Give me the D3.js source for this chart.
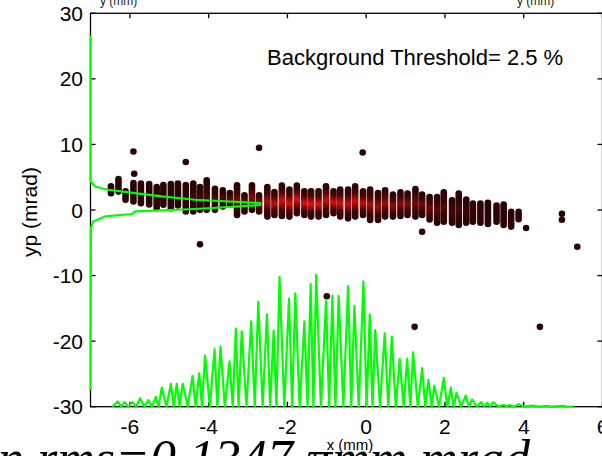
<!DOCTYPE html>
<html><head><meta charset="utf-8">
<script src="https://cdn.jsdelivr.net/npm/d3@7"></script>
<style>body{margin:0;background:#fff}svg{display:block}</style>
</head><body><svg id="c" width="602" height="456"></svg>
<script>
// ---- data ----
const xTicks = [-6, -4, -2, 0, 2, 4, 6];
const yTicks = [30, 20, 10, 0, -10, -20, -30];

// scatter columns (x in mm, top / bottom dot centres in mrad, density 0..1)
const colX = [-6.48,-6.29,-6.11,-5.91,-5.72,-5.51,-5.32,-5.15,-4.96,-4.78,
  -4.58,-4.39,-4.22,-4.05,-3.84,-3.64,-3.46,-3.28,-3.09,-2.90,
  -2.72,-2.51,-2.33,-2.14,-1.95,-1.76,-1.57,-1.40,-1.21,-1.02,
  -0.83,-0.66,-0.46,-0.28,-0.08,0.10,0.30,0.48,0.68,0.87,
  1.05,1.25,1.42,1.61,1.80,1.97,2.18,2.35,2.54,2.71,
  2.90,3.09,3.31,3.49,3.68,3.87];
const colTop = [3.62,4.73,2.86,4.12,4.02,3.97,3.51,3.82,3.97,4.05,
  3.82,4.05,3.51,4.53,3.25,3.01,2.60,3.77,2.25,3.77,
  2.25,3.51,2.75,3.71,3.10,3.71,2.86,2.86,2.86,3.62,
  2.86,3.10,3.10,3.62,2.86,3.10,2.60,3.01,2.34,2.71,
  2.50,3.21,2.34,1.99,1.99,2.71,1.49,2.50,1.58,0.97,
  0.97,1.08,0.67,0.82,-0.29,-0.29];
const colBot = [2.55,2.81,1.55,1.29,1.03,0.83,0.27,0.79,0.27,0.68,
  -0.24,-0.24,0.02,0.02,0.02,0.52,0.83,-0.75,-0.24,0.02,
  -0.24,-1.01,-0.75,-0.90,-1.01,-0.49,-0.75,-1.01,-1.01,-0.75,
  -0.49,-1.01,-1.27,-1.01,-0.75,-1.52,-1.52,-1.01,-1.01,-0.90,
  -0.75,-1.01,-0.75,-1.43,-1.93,-1.78,-1.93,-2.28,-1.93,-1.78,
  -1.93,-2.13,-1.78,-2.28,-2.53,-1.40];
const colHeat = [0,0,0,0,0,0,0,0,0,0,
  0.05,0.1,0.1,0.15,0.15,0.15,0.2,0.35,0.35,0.4,
  0.5,0.6,0.7,0.8,0.8,0.85,0.8,0.9,0.85,0.75,
  0.8,0.8,0.7,0.75,0.7,0.6,0.55,0.55,0.5,0.45,
  0.4,0.35,0.35,0.3,0.25,0.2,0.15,0.15,0.1,0.05,
  0.05,0,0,0,0,0];

// isolated points
const outX = [-5.91,-5.89,-4.58,-2.72,-0.09,-4.22,-1.00,1.23,4.41,4.97,4.97,5.36,1.42,4.06];
const outY = [8.92,5.52,7.31,9.48,8.77,-5.24,-13.16,-17.82,-17.82,-0.57,-1.48,-5.60,-3.31,-2.74];

// yp projection (drawn along the left axis)
const yProfY = [26.6,4.6,4.35,3.59,3.09,2.58,2.07,1.56,1.06,0.91,0.76,0.15,-0.22,-0.61,-0.98,-1.74,-2.74,-27.4];
const yProfX = [-7,-7,-6.99,-6.89,-6.55,-5.87,-5.19,-4.34,-2.69,-2.69,-2.69,-4.34,-5.87,-5.95,-6.63,-6.93,-6.99,-7];

// x projection (height above the -30 baseline, axis units)
const xPeakX = [-6.31,-6.14,-5.93,-5.74,-5.53,-5.34,-5.19,-4.96,-4.81,-4.66,
  -4.41,-4.24,-4.09,-3.85,-3.70,-3.47,-3.31,-3.16,-2.92,-2.74,
  -2.52,-2.35,-2.20,-1.96,-1.80,-1.57,-1.41,-1.27,-1.02,-0.86,
  -0.70,-0.46,-0.30,-0.07,0.09,0.23,0.47,0.65,0.85,1.04,
  1.19,1.42,1.58,1.73,1.97,2.15,2.29,2.53,2.69,2.92,
  3.07,3.22,3.49,3.64,3.87];
const xPeakH = [0.8,0.7,0.7,1.3,1.0,1.5,2.9,3.5,3.5,3.5,
  4.7,5.1,7.8,8.8,9.2,6.9,11.9,11.5,13.0,16.0,
  14.1,11.6,19.8,16.5,17.3,13.0,18.7,20.1,16.2,16.9,
  16.9,18.4,15.4,19.1,14.1,11.7,11.2,10.7,7.3,7.3,
  8.3,5.9,4.1,3.2,4.4,2.9,2.1,1.7,1.1,0.7,
  0.6,0.65,0.3,0.26,0.4];
const xValleyX = [-6.45,-6.22,-6.04,-5.84,-5.63,-5.44,-5.27,-5.07,-4.89,-4.74,-4.53,
  -4.33,-4.17,-3.97,-3.78,-3.59,-3.39,-3.24,-3.04,-2.83,-2.63,
  -2.44,-2.28,-2.08,-1.88,-1.69,-1.49,-1.34,-1.15,-0.94,-0.78,
  -0.58,-0.38,-0.19,0.01,0.16,0.35,0.56,0.75,0.95,1.12,
  1.31,1.50,1.66,1.85,2.06,2.22,2.41,2.61,2.81,3.00,
  3.15,3.36,3.57,3.76];
const xTailX = [4.0,4.1,4.25,4.4,4.59,4.7,5.0,5.1,5.27];
const xTailH = [0,0.1,0.15,0,0.12,0,0.12,0,0];

// ---- drawing ----
const svg = d3.select("#c");
const x = d3.scaleLinear().domain([-7, 6]).range([90.5, 602.5]);
const y = d3.scaleLinear().domain([-30, 30]).range([406.7, 13.3]);
const font = "'Liberation Sans', Arial, sans-serif";

const defs = svg.append("defs");
const dark = "#2a0404";
const heatCol = d3.interpolateRgb(dark, "#ff1414");

// columns
const cols = colX.map((cx, i) => ({cx, t: colTop[i], b: colBot[i], h: colHeat[i], i}));
cols.forEach(c => {
  const g = defs.append("linearGradient").attr("id", "g" + c.i)
    .attr("gradientUnits", "userSpaceOnUse")
    .attr("x1", x(c.cx)).attr("x2", x(c.cx))
    .attr("y1", y(c.t) - 3).attr("y2", y(c.b) + 3);
  [[0, 0], [0.25, 0.15], [0.5, 1], [0.75, 0.15], [1, 0]].forEach(([o, k]) =>
    g.append("stop").attr("offset", o).attr("stop-color", heatCol(c.h * k)));
});
const plot = svg.append("g");
plot.selectAll("line.col").data(cols).join("line").attr("class", "col")
  .attr("x1", d => x(d.cx)).attr("x2", d => x(d.cx))
  .attr("y1", d => y(d.t)).attr("y2", d => y(d.b))
  .attr("stroke", d => `url(#g${d.i})`)
  .attr("stroke-width", 6.6).attr("stroke-linecap", "round");

plot.selectAll("circle.out").data(outX.map((v, i) => [v, outY[i]])).join("circle")
  .attr("class", "out").attr("cx", d => x(d[0])).attr("cy", d => y(d[1]))
  .attr("r", 3.3).attr("fill", dark);

// axes box
const ax = svg.append("g").attr("stroke", "#000").attr("stroke-width", 1.3).attr("fill", "none");
ax.append("rect").attr("x", x(-7)).attr("y", y(30)).attr("width", x(6) - x(-7)).attr("height", y(-30) - y(30));
const tl = 5;
xTicks.forEach(t => {
  ax.append("line").attr("x1", x(t)).attr("x2", x(t)).attr("y1", y(-30)).attr("y2", y(-30) - tl);
  ax.append("line").attr("x1", x(t)).attr("x2", x(t)).attr("y1", y(30)).attr("y2", y(30) + tl);
});
yTicks.forEach(t => {
  ax.append("line").attr("x1", x(-7)).attr("x2", x(-7) + tl).attr("y1", y(t)).attr("y2", y(t));
  ax.append("line").attr("x1", x(6)).attr("x2", x(6) - tl).attr("y1", y(t)).attr("y2", y(t));
});

// green projections
const green = "#00ff00";
const yLine = d3.line().x(d => x(d[0])).y(d => y(d[1]));
svg.append("path").datum(yProfX.map((v, i) => [v, yProfY[i]]))
  .attr("d", yLine).attr("fill", "none").attr("stroke", green).attr("stroke-width", 2.2).attr("stroke-linejoin", "round");

const xPts = xPeakX.map((v, i) => [v, xPeakH[i]])
  .concat(xValleyX.map(v => [v, 0]))
  .concat(xTailX.map((v, i) => [v, xTailH[i]]))
  .sort((a, b) => a[0] - b[0]);
const hLine = d3.line().x(d => x(d[0])).y(d => y(-30 + d[1]));
svg.append("path").datum(xPts).attr("d", hLine).attr("fill", "none")
  .attr("stroke", green).attr("stroke-width", 2.2).attr("stroke-linejoin", "round");

// tick labels
svg.append("g").selectAll("text").data(yTicks).join("text")
  .attr("x", 83).attr("y", d => y(d) + 7.5).attr("text-anchor", "end")
  .attr("font-family", font).attr("font-size", 21).text(d => d);
svg.append("g").selectAll("text").data(xTicks).join("text")
  .attr("x", d => x(d)).attr("y", 434).attr("text-anchor", "middle")
  .attr("font-family", font).attr("font-size", 21).text(d => d);

// axis labels and annotations
svg.append("text").attr("transform", "translate(37,212) rotate(-90)")
  .attr("text-anchor", "middle").attr("font-family", font).attr("font-size", 21).text("yp (mrad)");
svg.append("text").attr("x", 267).attr("y", 65).attr("font-family", font).attr("font-size", 22)
  .text("Background Threshold= 2.5 %");
[100, 517].forEach(px => svg.append("text").attr("x", px).attr("y", 4.8)
  .attr("font-family", font).attr("font-size", 12).attr("fill", "#222").text("y (mm)"));

svg.append("text").attr("x", -2).attr("y", 476)
  .attr("font-family", "'Liberation Serif', 'Times New Roman', serif").attr("font-style", "italic")
  .attr("font-size", 52).text("n rms=0.1347 πmm mrad");
svg.append("text").attr("x", 350).attr("y", 450).attr("text-anchor", "middle")
  .attr("font-family", font).attr("font-size", 15).text("x (mm)");
</script></body></html>
